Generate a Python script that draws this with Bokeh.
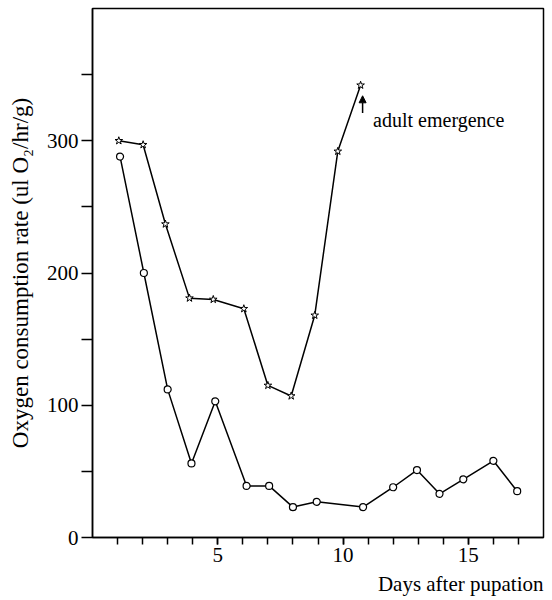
from bokeh.plotting import figure
from bokeh.models import FixedTicker, Title, Arrow, NormalHead, Label
from bokeh.embed import file_html
from bokeh.resources import INLINE

# --- data ---
open_days = [1.1, 2.05, 3.0, 3.95, 4.9, 6.15, 7.05, 8.0, 8.95, 10.8, 12.0, 12.95, 13.85, 14.8, 16.0, 16.95]
open_rate = [288, 200, 112, 56, 103, 39, 39, 23, 27, 23, 38, 51, 33, 44, 58, 35]

star_days = [1.05, 2.02, 2.91, 3.87, 4.82, 6.04, 7.0, 7.93, 8.87, 9.79, 10.7]
star_rate = [300, 297, 237, 181, 180, 173, 115, 107, 168, 292, 342]

x_major = [5, 10, 15]
x_minor = list(range(1, 18))
y_major = [0, 100, 200, 300]
y_minor = [50, 150, 250, 350]

note_text = "adult emergence"
note_pos = [11.2, 316]
arrow_x = [10.78, 10.78]
arrow_y = [321, 334]

FONT = "Liberation Serif"

p = figure(width=552, height=600, x_range=(0, 18), y_range=(0, 400),
           output_backend="svg", toolbar_location=None,
           min_border_left=92, min_border_right=9, min_border_top=8, min_border_bottom=61)

p.xgrid.visible = False
p.ygrid.visible = False
p.background_fill_color = "white"
p.border_fill_color = "white"
p.outline_line_color = "black"
p.outline_line_width = 1.5
p.outline_line_alpha = 1.0

p.xaxis.ticker = FixedTicker(ticks=x_major, minor_ticks=x_minor)
p.yaxis.ticker = FixedTicker(ticks=y_major, minor_ticks=y_minor)

for ax in p.axis:
    ax.axis_line_color = "black"
    ax.axis_line_width = 1.5
    ax.major_tick_line_color = "black"
    ax.minor_tick_line_color = "black"
    ax.major_tick_line_width = 1.5
    ax.minor_tick_line_width = 1.5
    ax.major_tick_in = 0
    ax.minor_tick_in = 0
    ax.major_label_text_font = FONT
    ax.major_label_text_font_size = "21px"
    ax.major_label_text_color = "black"

p.xaxis.major_tick_out = 7
p.xaxis.minor_tick_out = 7
p.xaxis.major_label_standoff = 3
p.yaxis.major_tick_out = 11
p.yaxis.minor_tick_out = 11
p.yaxis.major_label_standoff = 3

p.yaxis.axis_label = "Oxygen consumption rate (ul O\u2082/hr/g)"
p.yaxis.axis_label_text_font = FONT
p.yaxis.axis_label_text_font_size = "23px"
p.yaxis.axis_label_text_font_style = "normal"
p.yaxis.axis_label_text_color = "black"
p.yaxis.axis_label_standoff = 11

p.add_layout(Title(text="Days after pupation", align="right", text_font=FONT,
                   text_font_size="21px", text_font_style="normal",
                   text_color="black"), "below")

# series
p.line(star_days, star_rate, line_color="black", line_width=1.5)
p.scatter(star_days, star_rate, marker="star", size=8, fill_color="white",
          line_color="black", line_width=1)

p.line(open_days, open_rate, line_color="black", line_width=1.5)
p.scatter(open_days, open_rate, marker="circle", size=7, fill_color="white",
          line_color="black", line_width=1.2)

# annotation
p.add_layout(Arrow(end=NormalHead(size=7, fill_color="black", line_color="black"),
                   x_start=arrow_x[0], y_start=arrow_y[0], x_end=arrow_x[1], y_end=arrow_y[1],
                   line_color="black", line_width=1.5))
p.add_layout(Label(x=note_pos[0], y=note_pos[1], text=note_text, text_font=FONT,
                   text_font_size="20px", text_color="black", text_baseline="alphabetic"))

open("out.html", "w").write(file_html(p, INLINE))
